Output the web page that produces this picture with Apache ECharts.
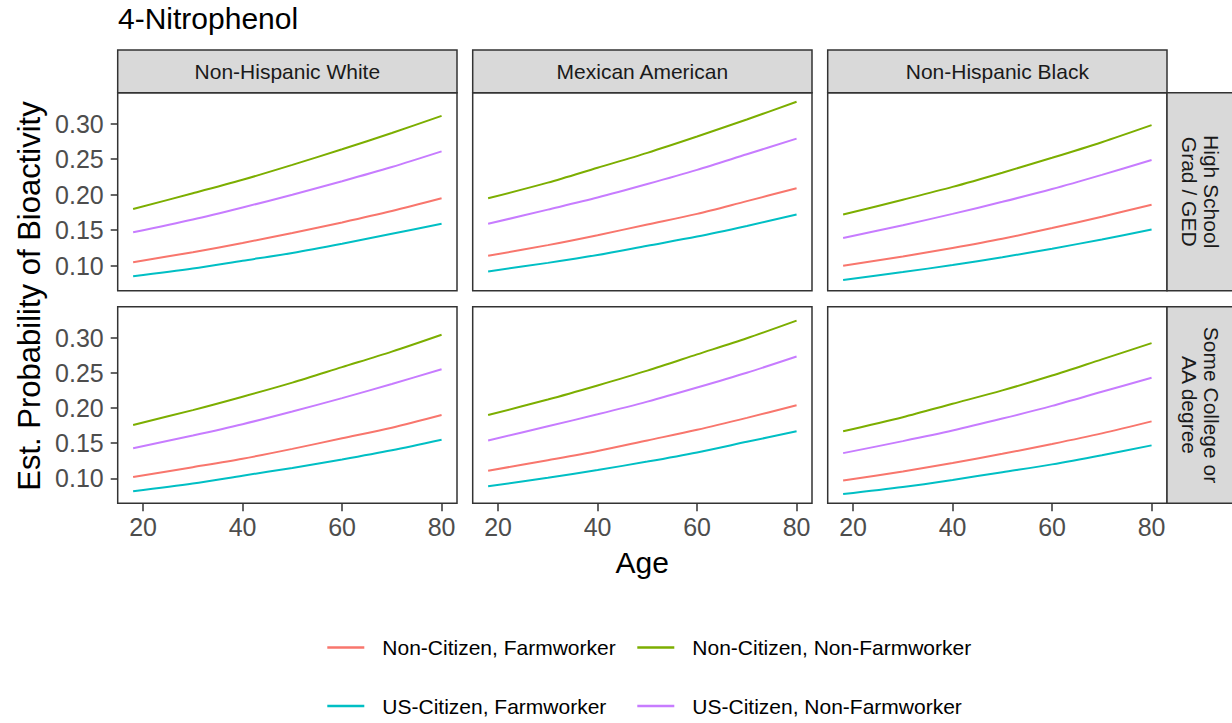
<!DOCTYPE html>
<html>
<head>
<meta charset="utf-8">
<script src="https://cdn.jsdelivr.net/npm/echarts@6/dist/echarts.min.js"></script>
<style>
  html, body { margin: 0; padding: 0; background: #fff; }
  #chart { width: 1232px; height: 723px; }
</style>
</head>
<body>
<div id="chart"></div>
<script>
// ---------- data ----------
const ages = [18, 30, 40, 50, 60, 70, 80];
const xTicks = [20, 40, 60, 80];
const yTicks = [0.10, 0.15, 0.20, 0.25, 0.30];
const chartTitle = '4-Nitrophenol';
const xTitle = 'Age';
const yTitle = 'Est. Probability of Bioactivity';
const raceLabels = ['Non-Hispanic White', 'Mexican American', 'Non-Hispanic Black'];
const educLabels = ['High School\nGrad / GED', 'Some College or\nAA degree'];
const groupNames = ['Non-Citizen, Farmworker', 'Non-Citizen, Non-Farmworker', 'US-Citizen, Farmworker', 'US-Citizen, Non-Farmworker'];

// High School Grad / GED
const hsWhite_NCF  = [0.105, 0.119, 0.132, 0.146, 0.161, 0.177, 0.195];
const hsWhite_NCNF = [0.180, 0.202, 0.221, 0.242, 0.264, 0.287, 0.311];
const hsWhite_USF  = [0.085, 0.096, 0.107, 0.118, 0.131, 0.145, 0.159];
const hsWhite_USNF = [0.147, 0.165, 0.182, 0.200, 0.219, 0.239, 0.261];

const hsMex_NCF  = [0.114, 0.129, 0.143, 0.158, 0.173, 0.191, 0.209];
const hsMex_NCNF = [0.195, 0.217, 0.238, 0.259, 0.282, 0.306, 0.331];
const hsMex_USF  = [0.092, 0.104, 0.115, 0.128, 0.141, 0.156, 0.172];
const hsMex_USNF = [0.159, 0.179, 0.196, 0.215, 0.235, 0.257, 0.279];

const hsBlack_NCF  = [0.100, 0.113, 0.125, 0.138, 0.153, 0.169, 0.186];
const hsBlack_NCNF = [0.172, 0.193, 0.211, 0.231, 0.252, 0.274, 0.298];
const hsBlack_USF  = [0.080, 0.091, 0.101, 0.112, 0.124, 0.137, 0.151];
const hsBlack_USNF = [0.139, 0.157, 0.173, 0.190, 0.208, 0.228, 0.249];

// Some College or AA degree
const scWhite_NCF  = [0.102, 0.116, 0.128, 0.142, 0.157, 0.172, 0.190];
const scWhite_NCNF = [0.176, 0.197, 0.216, 0.236, 0.258, 0.280, 0.304];
const scWhite_USF  = [0.082, 0.093, 0.104, 0.115, 0.127, 0.140, 0.155];
const scWhite_USNF = [0.143, 0.161, 0.177, 0.195, 0.214, 0.234, 0.255];

const scMex_NCF  = [0.111, 0.126, 0.139, 0.154, 0.169, 0.186, 0.204];
const scMex_NCNF = [0.190, 0.212, 0.232, 0.253, 0.276, 0.299, 0.324];
const scMex_USF  = [0.089, 0.101, 0.112, 0.124, 0.137, 0.152, 0.167];
const scMex_USNF = [0.154, 0.174, 0.191, 0.209, 0.229, 0.250, 0.273];

const scBlack_NCF  = [0.097, 0.110, 0.122, 0.135, 0.149, 0.164, 0.181];
const scBlack_NCNF = [0.167, 0.187, 0.206, 0.225, 0.246, 0.269, 0.292];
const scBlack_USF  = [0.078, 0.088, 0.098, 0.109, 0.120, 0.133, 0.147];
const scBlack_USNF = [0.136, 0.153, 0.168, 0.185, 0.203, 0.223, 0.243];

// panel table (row-major: education row, race column)
const panels = [
  [hsWhite_NCF, hsWhite_NCNF, hsWhite_USF, hsWhite_USNF],
  [hsMex_NCF, hsMex_NCNF, hsMex_USF, hsMex_USNF],
  [hsBlack_NCF, hsBlack_NCNF, hsBlack_USF, hsBlack_USNF],
  [scWhite_NCF, scWhite_NCNF, scWhite_USF, scWhite_USNF],
  [scMex_NCF, scMex_NCNF, scMex_USF, scMex_USNF],
  [scBlack_NCF, scBlack_NCNF, scBlack_USF, scBlack_USNF]
];

// ---------- style / layout ----------
const colors = ['#F8766D', '#7CAE00', '#00BFC4', '#C77CFF'];
const FONT = '"Liberation Sans", Arial, Helvetica, sans-serif';
const colLeft = [117.7, 472.7, 827.7];
const colW = 339.3;
const rowTop = [92.7, 306.7];
const rowH = [198, 196.6];
const stripTop = 50;
const X_MIN = 14.9, X_MAX = 83.1;
const Y_MIN = 0.0648, Y_MAX = 0.3437;

const grids = [], xAxes = [], yAxes = [], series = [];
for (let r = 0; r < 2; r++) {
  for (let c = 0; c < 3; c++) {
    const idx = r * 3 + c;
    grids.push({
      left: colLeft[c], top: rowTop[r], width: colW, height: rowH[r],
      show: true, borderColor: '#333333', borderWidth: 1.5, backgroundColor: '#ffffff'
    });
    xAxes.push({
      type: 'value', gridIndex: idx, min: X_MIN, max: X_MAX,
      splitLine: { show: false }, axisLine: { show: false },
      axisTick: { show: r === 1, customValues: xTicks, length: 8, lineStyle: { color: '#333333', width: 1.5 } },
      axisLabel: { show: r === 1, customValues: xTicks, margin: 24, verticalAlign: 'middle',
        fontSize: 25, color: '#4d4d4d', fontFamily: FONT }
    });
    yAxes.push({
      type: 'value', gridIndex: idx, min: Y_MIN, max: Y_MAX,
      splitLine: { show: false }, axisLine: { show: false },
      axisTick: { show: c === 0, customValues: yTicks, length: 7, lineStyle: { color: '#333333', width: 1.5 } },
      axisLabel: { show: c === 0, customValues: yTicks, margin: 14,
        formatter: v => v.toFixed(2), fontSize: 25, color: '#4d4d4d', fontFamily: FONT }
    });
    for (let g = 0; g < 4; g++) {
      const vals = panels[idx][g];
      series.push({
        type: 'line', name: groupNames[g], xAxisIndex: idx, yAxisIndex: idx,
        data: ages.map((a, i) => [a, vals[i]]),
        showSymbol: false, symbol: 'none', smooth: 0.3,
        lineStyle: { width: 2, color: colors[g] }, itemStyle: { color: colors[g] },
        silent: true, animation: false
      });
    }
  }
}

// legends: one per item to place them like the reference
const legendPos = [
  { left: 327.3, cy: 647.5 }, { left: 637.3, cy: 647.5 },
  { left: 327.3, cy: 706 }, { left: 637.3, cy: 706 }
];
const legends = groupNames.map((n, i) => ({
  data: [n], left: legendPos[i].left, top: legendPos[i].cy - 11, padding: 0,
  icon: 'rect', itemWidth: 37, itemHeight: 2.5, selectedMode: false,
  textStyle: { fontSize: 21, lineHeight: 22, color: '#000', fontFamily: FONT, padding: [0, 0, 0, 13] }
}));

// graphic: strips, titles
const graphics = [];
for (let c = 0; c < 3; c++) {
  graphics.push({
    type: 'rect', shape: { x: colLeft[c], y: stripTop, width: colW, height: rowTop[0] - stripTop },
    style: { fill: '#d9d9d9', stroke: '#333333', lineWidth: 1.5 }, silent: true, z: 10
  });
  graphics.push({
    type: 'text', x: colLeft[c] + colW / 2, y: (stripTop + rowTop[0]) / 2 + 0.5,
    style: { text: raceLabels[c], fontSize: 21, fontFamily: FONT, fill: '#1a1a1a', align: 'center', verticalAlign: 'middle' },
    silent: true, z: 11
  });
}
for (let r = 0; r < 2; r++) {
  graphics.push({
    type: 'rect', shape: { x: colLeft[2] + colW, y: rowTop[r], width: 80, height: rowH[r] },
    style: { fill: '#d9d9d9', stroke: '#333333', lineWidth: 1.5 }, silent: true, z: 10
  });
  graphics.push({
    type: 'text', x: 1200, y: rowTop[r] + rowH[r] / 2, rotation: -Math.PI / 2,
    style: { text: educLabels[r], fontSize: 21, lineHeight: 22, fontFamily: FONT, fill: '#1a1a1a', align: 'center', verticalAlign: 'middle' },
    silent: true, z: 11
  });
}
graphics.push({
  type: 'text', x: 118, y: 18,
  style: { text: chartTitle, fontSize: 30, fontFamily: FONT, fill: '#000', align: 'left', verticalAlign: 'middle' },
  silent: true
});
graphics.push({
  type: 'text', x: 642.3, y: 562,
  style: { text: xTitle, fontSize: 30, fontFamily: FONT, fill: '#000', align: 'center', verticalAlign: 'middle' },
  silent: true
});
graphics.push({
  type: 'text', x: 29, y: 296, rotation: Math.PI / 2,
  style: { text: yTitle, fontSize: 31, fontFamily: FONT, fill: '#000', align: 'center', verticalAlign: 'middle' },
  silent: true
});

const chart = echarts.init(document.getElementById('chart'), null, { renderer: 'svg' });
chart.setOption({
  animation: false,
  backgroundColor: '#ffffff',
  grid: grids,
  xAxis: xAxes,
  yAxis: yAxes,
  legend: legends,
  series: series,
  graphic: graphics
});
</script>
</body>
</html>
